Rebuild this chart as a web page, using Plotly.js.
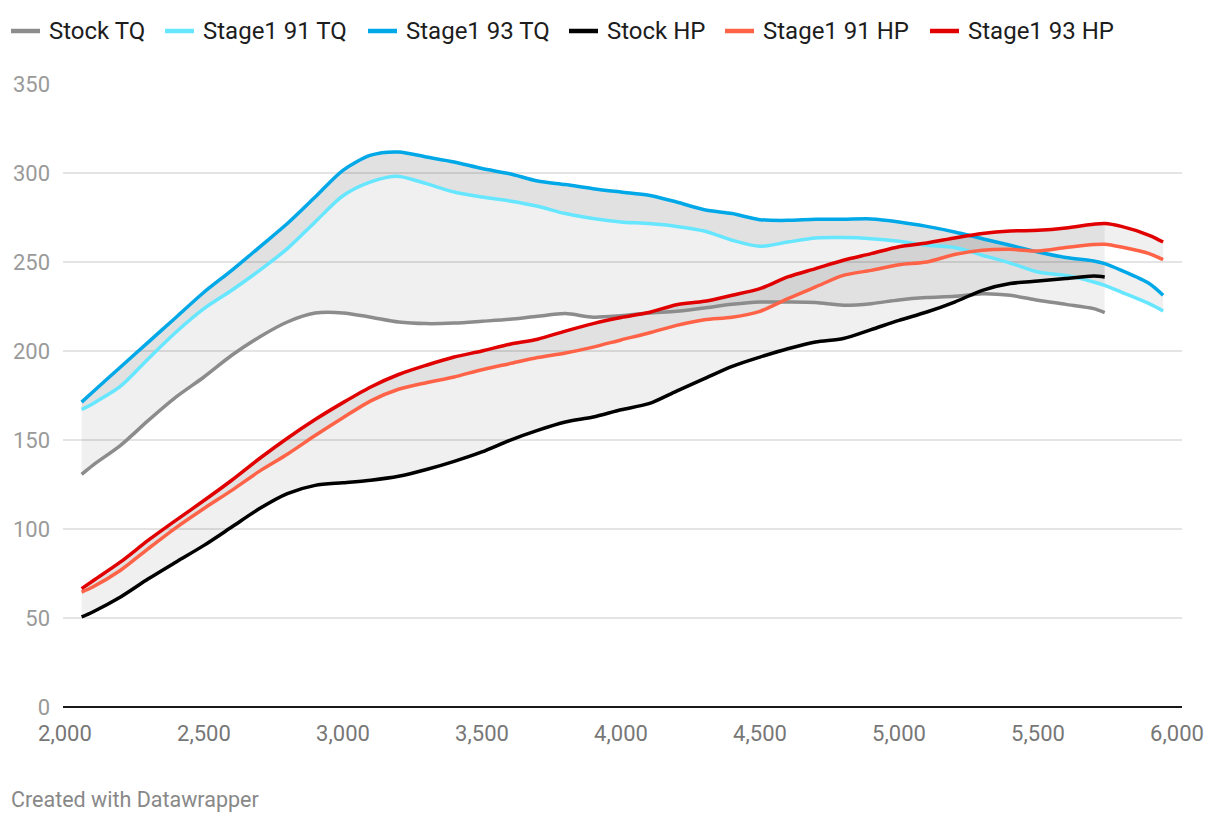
<!DOCTYPE html>
<html>
<head>
<meta charset="utf-8">
<script src="https://cdn.plot.ly/plotly-3.0.1.min.js"></script>
<style>
  html, body { margin: 0; padding: 0; background: #fff; }
  #chart { width: 1220px; height: 824px; }
</style>
</head>
<body>
<div id="chart"></div>
<script>
// RPM grid (shared by all series)
const rpm = [2060, 2100, 2200, 2300, 2400, 2500, 2600, 2700, 2800, 2900,
             3000, 3100, 3200, 3300, 3400, 3500, 3600, 3700, 3800, 3900,
             4000, 4100, 4200, 4300, 4400, 4500, 4600, 4700, 4800, 4900,
             5000, 5100, 5200, 5300, 5400, 5500, 5600, 5700, 5740,
             5800, 5900, 5950];

// Torque series
const stockTQ = [130.7, 135.8, 147, 161, 174.2, 185.4, 197.6, 207.9, 216.3, 221.3,
                 221.4, 219, 216.3, 215.4, 215.7, 216.7, 217.8, 219.5, 221, 219,
                 219.8, 221.3, 222.3, 224.2, 226.2, 227.5, 227.5, 227.2, 225.7, 226.6,
                 228.7, 230, 230.7, 232.2, 231.3, 228.5, 226.2, 223.8, 221.6];
const stage1_91TQ = [167.1, 170.4, 180.2, 195.7, 210.7, 223.8, 234.1, 245.3, 257.5, 272.5,
                     287.2, 295, 298.1, 294, 289.3, 286.5, 284.3, 281.3, 277.2, 274.4,
                     272.5, 271.6, 270, 267.4, 262.2, 258.8, 261.2, 263.5, 263.7, 263.1,
                     261.6, 259.4, 258.1, 253.8, 249.4, 244.4, 242.5, 238.8, 236.9,
                     233.1, 226.6, 222.5];
const stage1_93TQ = [171.3, 177, 191, 205, 219, 233, 245.3, 258.4, 271.6, 286.5,
                     301.5, 310, 311.8, 309, 306.2, 302.5, 299.6, 295.5, 293.5, 291.2,
                     289.3, 287.5, 283.7, 279.4, 277.2, 273.8, 273.4, 274, 274, 274.2,
                     272.5, 270, 266.9, 263.1, 259.4, 255.6, 252.5, 250.6, 249.1,
                     245.3, 237.9, 231.3];

// Horsepower series
const stockHP = [50.6, 53.4, 61.8, 72, 81.5, 90.8, 101.1, 111.5, 119.9, 124.5,
                 126, 127.4, 129.6, 133.4, 138, 143.3, 149.8, 155.4, 160.1, 162.9,
                 167, 170.4, 177.5, 184.5, 191.4, 196.6, 201.3, 205.1, 207, 212,
                 217.2, 221.9, 227.5, 234.1, 237.9, 239.3, 240.7, 242.1, 241.6];
const stage1_91HP = [64.6, 67.4, 76.8, 89, 100.8, 111.5, 121.7, 132.5, 142, 152.5,
                     162.5, 172, 178.5, 182.2, 185.4, 189.5, 192.9, 196.3, 198.9, 202.2,
                     206.2, 210.1, 214.4, 217.6, 219, 222.3, 229.4, 236, 242.5, 245.3,
                     248.5, 250, 254.2, 256.6, 257.1, 256.2, 258.1, 259.8, 260,
                     258.4, 254.7, 251.3];
const stage1_93HP = [66.5, 70.8, 81.5, 93.7, 105, 116, 127.4, 139.6, 151, 161.5,
                     171, 179.8, 186.8, 192, 196.6, 200, 203.8, 206.6, 211.2, 215.4,
                     218.8, 221.6, 226, 227.9, 231.3, 235, 241.6, 246.3, 251, 254.7,
                     258.6, 260.7, 263.5, 266, 267.4, 267.8, 269.1, 271.2, 271.6,
                     270, 265, 261.2];

const seriesNames = ["Stock TQ", "Stage1 91 TQ", "Stage1 93 TQ", "Stock HP", "Stage1 91 HP", "Stage1 93 HP"];
const seriesColors = ["#8c8c8c", "#66e6ff", "#00a8e8", "#000000", "#ff6347", "#e00000"];
const xTicks = [2000, 2500, 3000, 3500, 4000, 4500, 5000, 5500, 6000];
const yTicks = [0, 50, 100, 150, 200, 250, 300, 350];

const stockLen = stockTQ.length;
const xStock = rpm.slice(0, stockLen);
const xFull = rpm.slice(0, stage1_93TQ.length);

const FILL = "rgba(0,0,0,0.058)";
const SPL = {shape: "spline", smoothing: 0.8};

function helper(x, y, fill) {
  const t = {x: x, y: y, type: "scatter", mode: "lines", showlegend: false,
             hoverinfo: "skip", line: Object.assign({width: 0, color: "rgba(0,0,0,0)"}, SPL)};
  if (fill) { t.fill = "tonexty"; t.fillcolor = FILL; }
  return t;
}

const traces = [];
// Band: Stock TQ -> Stage1 93 TQ (stock range)
traces.push(helper(xStock, stockTQ, false));
traces.push(helper(xStock, stage1_93TQ.slice(0, stockLen), true));
// Band: Stage1 91 TQ -> Stage1 93 TQ (full range)
traces.push(helper(xFull, stage1_91TQ, false));
traces.push(helper(xFull, stage1_93TQ, true));
// Band: Stock HP -> Stage1 93 HP (stock range)
traces.push(helper(xStock, stockHP, false));
traces.push(helper(xStock, stage1_93HP.slice(0, stockLen), true));
// Band: Stage1 91 HP -> Stage1 93 HP (full range)
traces.push(helper(xFull, stage1_91HP, false));
traces.push(helper(xFull, stage1_93HP, true));

const lineData = [[xStock, stockTQ], [xFull, stage1_91TQ], [xFull, stage1_93TQ],
                  [xStock, stockHP], [xFull, stage1_91HP], [xFull, stage1_93HP]];
lineData.forEach(function (d, i) {
  traces.push({
    x: d[0], y: d[1], type: "scatter", mode: "lines", name: seriesNames[i],
    showlegend: false,
    line: Object.assign({color: seriesColors[i], width: 3.5}, SPL)
  });
});

// Plot area geometry (pixels) used to place the custom legend/footer
const PL = 63, PW = 1119, PB = 707, PH = 623;
const px2x = function (p) { return (p - PL) / PW; };
const py2y = function (p) { return (PB - p) / PH; };

// Legend item positions (line start in px)
const legendStarts = [10, 164, 367, 568, 724, 929];
const legendY = 31;
const shapes = [];
const annotations = [];
seriesNames.forEach(function (name, i) {
  const s = legendStarts[i];
  shapes.push({type: "line", xref: "paper", yref: "paper",
               x0: px2x(s + 1), x1: px2x(s + 30), y0: py2y(legendY), y1: py2y(legendY),
               line: {color: seriesColors[i], width: 4.5}});
  annotations.push({text: name, xref: "paper", yref: "paper",
                    x: px2x(s + 37), y: py2y(legendY), xanchor: "left", yanchor: "middle",
                    showarrow: false,
                    font: {family: "Roboto, sans-serif", size: 24, color: "#1d1d1d"}});
});
annotations.push({
  text: "Created with Datawrapper", xref: "paper", yref: "paper",
  x: px2x(9), y: py2y(800), xanchor: "left", yanchor: "middle",
  showarrow: false, font: {family: "Roboto, sans-serif", size: 21.5, color: "#888888"}
});

const layout = {
  width: 1220, height: 824,
  paper_bgcolor: "#ffffff", plot_bgcolor: "#ffffff",
  margin: {l: 63, r: 38, t: 84, b: 117},
  font: {family: "Roboto, sans-serif", size: 22, color: "#222"},
  showlegend: false,
  xaxis: {
    range: [1993, 6018], tickvals: xTicks, tickformat: ",d",
    showgrid: false, zeroline: false, showline: false,
    ticks: "", tickfont: {size: 22, color: "#777777"}, ticklabelstandoff: 11,
    fixedrange: true
  },
  yaxis: {
    range: [0, 350], tickvals: yTicks, showgrid: true,
    gridcolor: "#e4e4e4", gridwidth: 1.5,
    zeroline: true, zerolinecolor: "#1a1a1a", zerolinewidth: 2,
    showline: false, ticks: "", tickfont: {size: 22, color: "#9a9a9a"},
    ticklabelstandoff: 12, fixedrange: true
  },
  shapes: shapes,
  annotations: annotations
};

Plotly.newPlot("chart", traces, layout, {displayModeBar: false, staticPlot: true});
</script>
</body>
</html>
